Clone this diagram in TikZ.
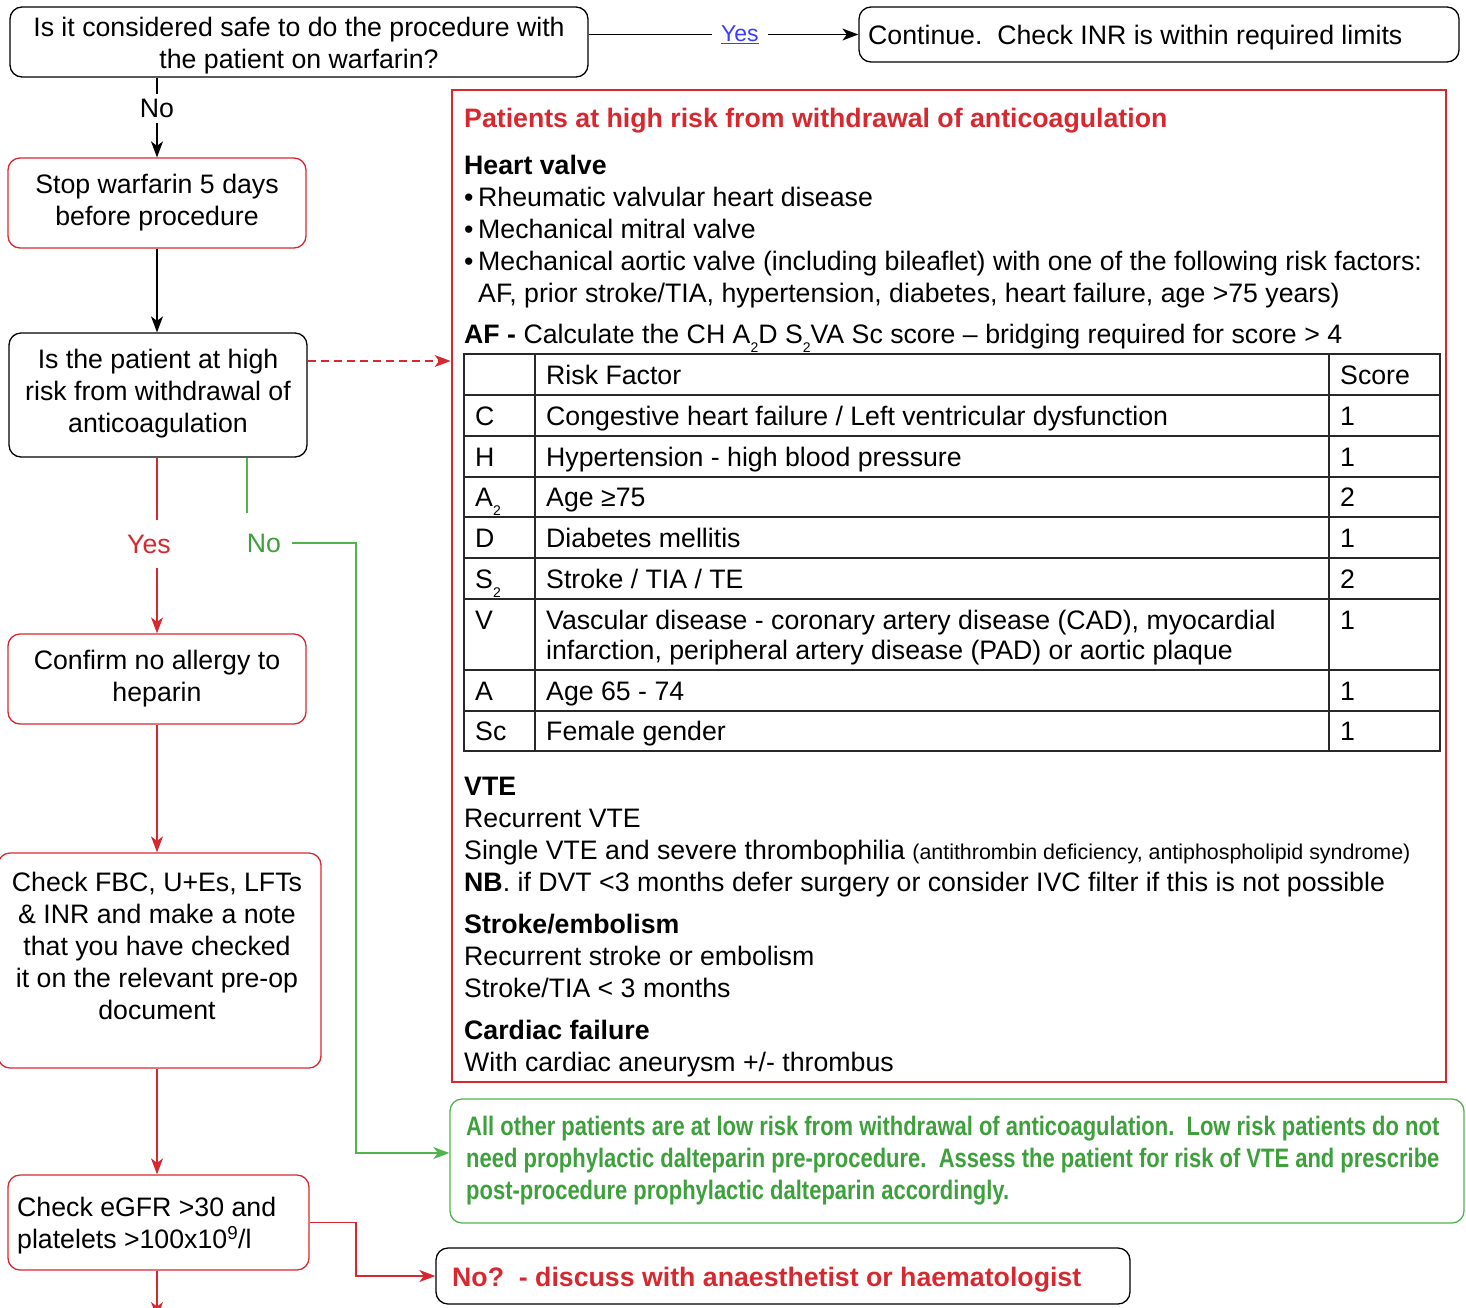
\documentclass[tikz,border=0pt]{standalone}
\usepackage{fontspec}
\setmainfont{Liberation Sans}
\newfontfamily\condbf[FakeStretch=0.823]{Liberation Sans Bold}
\usetikzlibrary{arrows.meta}
\definecolor{myred}{RGB}{215,40,47}
\definecolor{mygreen}{RGB}{80,180,76}
\definecolor{greentext}{RGB}{62,160,60}
\definecolor{linkblue}{RGB}{60,60,255}
\definecolor{gridc}{RGB}{40,40,40}
\newcommand\fs{\fontsize{26.7}{32}\selectfont}
\newcommand\subtwo{\raisebox{-9pt}{\fontsize{14}{14}\selectfont 2}}
\newcommand\bul{\makebox[14pt][l]{•}}
\begin{document}
\begin{tikzpicture}[x=1pt,y=-1pt,
  every node/.style={font=\fs},
  bx/.style={draw, rounded corners=12pt, line width=1.3pt, inner sep=0pt},
  bxred/.style={bx, draw=myred},
  txt/.style={inner sep=0pt, align=center},
  pl/.style={anchor=base west, inner sep=0pt},
  con/.style={line width=1.3pt, -{Stealth[length=16pt,width=12pt,inset=4.5pt]}},
  lbl/.style={fill=white, inner xsep=4pt, inner ysep=5pt},
  tgrid/.style={draw=gridc, line width=1.3pt}]
\useasboundingbox (0,0) rectangle (1466,1307);

% ---------- left column boxes
\node[bx, minimum width=578pt, minimum height=70pt] (A) at (299,42) {};
\node[txt] (At) at (299,45.6) {Is it considered safe to do the procedure with\\the patient on warfarin?};
\node[bx, minimum width=600pt, minimum height=55pt] (B) at (1159,34.5) {};
\node[pl] (Bt) at (868,44.5) {Continue.\ \ Check INR is within required limits};
\node[bxred, minimum width=298pt, minimum height=90pt] (C) at (157,203) {};
\node[txt] (Ct) at (157,203) {Stop warfarin 5 days\\before procedure};
\node[bx, minimum width=298pt, minimum height=124pt] (D) at (158,395) {};
\node[txt] (Dt) at (158,393.6) {Is the patient at high\\risk from withdrawal of\\anticoagulation};
\node[bxred, minimum width=298pt, minimum height=90pt] (E) at (157,679) {};
\node[txt] (Et) at (157,678.6) {Confirm no allergy to\\heparin};
\node[bxred, minimum width=323pt, minimum height=215pt] (F) at (159.5,960.5) {};
\node[txt] (Ft) at (157,946) {Check FBC, U+Es, LFTs\\\& INR and make a note\\that you have checked\\it on the relevant pre-op\\document};
\node[bxred, minimum width=301pt, minimum height=95pt] (G) at (158.5,1222.5) {};
\node[txt, align=left, anchor=west] (Gt) at (17,1225.6) {Check eGFR >30 and\\platelets >100x10\textsuperscript{9}/l};
\node[bx, minimum width=694pt, minimum height=56pt] (H) at (783,1276) {};
\node[pl, text=myred, font=\fs\bfseries] (Ht) at (452,1286.5) {No?\ \ - discuss with anaesthetist or haematologist};
\node[bx, draw=mygreen, minimum width=1014pt, minimum height=124pt] (I) at (957,1161) {};
\node[txt, align=left, anchor=west, text=greentext, font=\fs\condbf] (It) at (466,1160.6)
  {All other patients are at low risk from withdrawal of anticoagulation.\ \ Low risk patients do not\\
   need prophylactic dalteparin pre-procedure.\ \ Assess the patient for risk of VTE and prescribe\\
   post-procedure prophylactic dalteparin accordingly.};

% ---------- red panel
\node[draw=myred, line width=2.8pt, minimum width=994pt, minimum height=992pt, inner sep=0pt] (P) at (949,586) {};
\node[pl, text=myred, font=\fs\bfseries] (ptitle) at (464,127) {Patients at high risk from withdrawal of anticoagulation};
\node[pl, font=\fs\bfseries] (hv) at (464,174) {Heart valve};
\node[pl] (hv1) at (464,206) {\bul Rheumatic valvular heart disease};
\node[pl] (hv2) at (464,238) {\bul Mechanical mitral valve};
\node[pl] (hv3) at (464,270) {\bul Mechanical aortic valve (including bileaflet) with one of the following risk factors:};
\node[pl] (hv4) at (478,302) {AF, prior stroke/TIA, hypertension, diabetes, heart failure, age >75 years)};
\node[pl] (af) at (464,343) {\textbf{AF -} Calculate the CH A\subtwo D S\subtwo VA Sc score – bridging required for score > 4};

% table
\draw[tgrid] (464,354) rectangle (1440,751);
\foreach \yy in {395,436,477,517,558,599,670,711} \draw[tgrid] (464,\yy) -- (1440,\yy);
\draw[tgrid] (535,354) -- (535,751);
\draw[tgrid] (1329,354) -- (1329,751);
\node[pl] (t0b) at (546,384) {Risk Factor};
\node[pl] (t0c) at (1340,384) {Score};
\node[pl] (t1a) at (475,425) {C};
\node[pl] (t1b) at (546,425) {Congestive heart failure / Left ventricular dysfunction};
\node[pl] (t1c) at (1340,425) {1};
\node[pl] (t2a) at (475,466) {H};
\node[pl] (t2b) at (546,466) {Hypertension - high blood pressure};
\node[pl] (t2c) at (1340,466) {1};
\node[pl] (t3a) at (475,506.5) {A\subtwo};
\node[pl] (t3b) at (546,506.5) {Age ≥75};
\node[pl] (t3c) at (1340,506.5) {2};
\node[pl] (t4a) at (475,547) {D};
\node[pl] (t4b) at (546,547) {Diabetes mellitis};
\node[pl] (t4c) at (1340,547) {1};
\node[pl] (t5a) at (475,588) {S\subtwo};
\node[pl] (t5b) at (546,588) {Stroke / TIA / TE};
\node[pl] (t5c) at (1340,588) {2};
\node[pl] (t6a) at (475,629.5) {V};
\node[pl] (t6b) at (546,629.5) {Vascular disease - coronary artery disease (CAD), myocardial};
\node[pl] (t6d) at (546,659.5) {infarction, peripheral artery disease (PAD) or aortic plaque};
\node[pl] (t6c) at (1340,629.5) {1};
\node[pl] (t7a) at (475,700) {A};
\node[pl] (t7b) at (546,700) {Age 65 - 74};
\node[pl] (t7c) at (1340,700) {1};
\node[pl] (t8a) at (475,740.5) {Sc};
\node[pl] (t8b) at (546,740.5) {Female gender};
\node[pl] (t8c) at (1340,740.5) {1};

\node[pl, font=\fs\bfseries] (vte) at (464,795) {VTE};
\node[pl] (vte1) at (464,827) {Recurrent VTE};
\node[pl] (vte2) at (464,859) {Single VTE and severe thrombophilia {\fontsize{21.4}{24}\selectfont (antithrombin deficiency, antiphospholipid syndrome)}};
\node[pl] (vte3) at (464,891) {\textbf{NB}. if DVT <3 months defer surgery or consider IVC filter if this is not possible};
\node[pl, font=\fs\bfseries] (se) at (464,933) {Stroke/embolism};
\node[pl] (se1) at (464,965) {Recurrent stroke or embolism};
\node[pl] (se2) at (464,997) {Stroke/TIA < 3 months};
\node[pl, font=\fs\bfseries] (cf) at (464,1039) {Cardiac failure};
\node[pl] (cf1) at (464,1071) {With cardiac aneurysm +/- thrombus};

% ---------- connectors
\draw[con] (A.east |- B.west) -- (B.west)
  node[pos=0.561, lbl, inner xsep=9pt, text=linkblue, font=\fontsize{23}{28}\selectfont] (yes1) {\underline{Yes}};
\draw[con] (C.north |- A.south) -- (C.north) node[pos=0.39, lbl] (no1) {No};
\draw[con] (C.south) -- (C.south |- D.north);
\draw[con, myred, dash pattern=on 8pt off 5pt] ([yshift=34pt]D.east) -- ([yshift=34pt]D.east -| P.west);
\draw[con, myred] (D.south -| E.north) -- (E.north)
  node[pos=0.5, lbl, xshift=-8pt, yshift=1.5pt, text=myred, inner ysep=15pt] (yes2) {Yes};
\coordinate (g1) at (247,543);
\coordinate (g2) at (356,543);
\coordinate (g3) at (356,1153);
\draw[con, mygreen] (D.south -| g1) -- (g1) -- (g2) -- (g3) -- (g3 -| I.west);
\node[fill=white, text=greentext, inner xsep=10.5pt, inner ysep=21pt] (no2) at (264,543) {No};
\draw[con, myred] (E.south) -- (E.south |- F.north);
\draw[con, myred] (E.south |- F.south) -- (E.south |- G.north);
\draw[con, myred] (G.east) -| (g3 |- H.west) -- (H.west);
\coordinate (gend) at (157,1318);
\draw[con, myred] (E.south |- G.south) -- (gend);
\end{tikzpicture}
\end{document}
